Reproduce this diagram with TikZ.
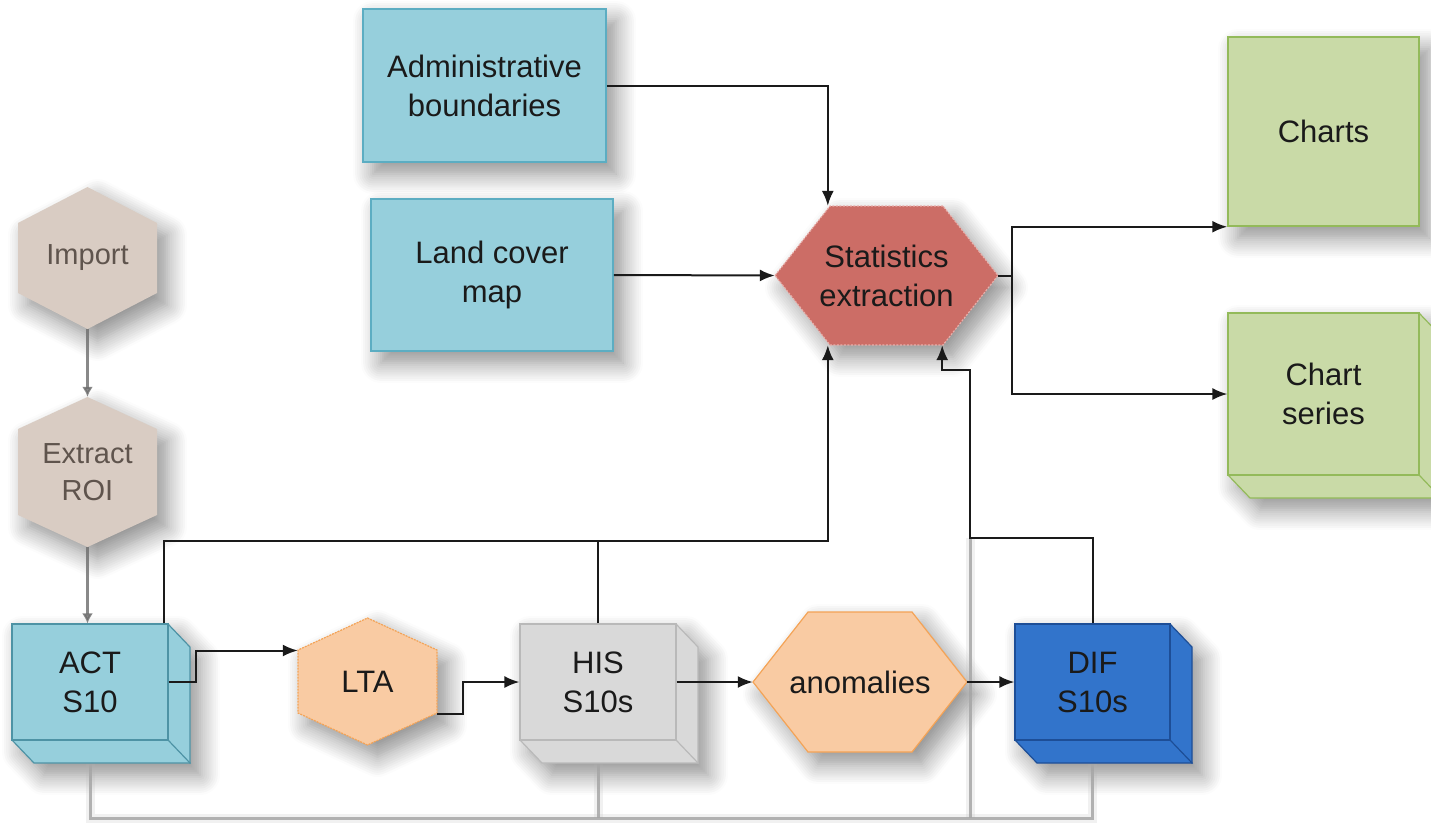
\documentclass[tikz,border=0pt]{standalone}
\usepackage{fontspec}
\setmainfont{Liberation Sans}
\usetikzlibrary{arrows.meta,shadows.blur}

\definecolor{lblue}{HTML}{96CFDC}
\definecolor{lblueline}{HTML}{5CADC2}
\definecolor{statred}{HTML}{CC6D66}
\definecolor{statline}{HTML}{E9AFAA}
\definecolor{lgreen}{HTML}{C9DAA7}
\definecolor{lgreenline}{HTML}{93BA5A}
\definecolor{peach}{HTML}{F9CBA3}
\definecolor{peachline}{HTML}{F4A356}
\definecolor{lgrey}{HTML}{D9D9D9}
\definecolor{lgreyline}{HTML}{B9B9B9}
\definecolor{difblue}{HTML}{3274CB}
\definecolor{difline}{HTML}{1D4E97}
\definecolor{beige}{HTML}{D9CCC3}
\definecolor{fadetext}{HTML}{5F544D}
\definecolor{ink}{HTML}{1A1A1A}

% extruded box body (front face plus depth faces): centre x, centre y, half width, half height, fill, line
\newcommand\cubebackat[6]{%
  \path[fill=#5, draw=#6, line width=1.2pt, line join=round, shapeshade]
    ({#1-#3},{#2-#4}) -- ({#1+#3},{#2-#4}) -- ({#1+#3+22},{#2-#4+23})
    -- ({#1+#3+22},{#2+#4+23}) -- ({#1-#3+22},{#2+#4+23}) -- ({#1-#3},{#2+#4}) -- cycle;}

% depth edge from the lower right corner of a front face
\newcommand\cubeedge[2]{%
  \draw[#2, line width=1.2pt] (#1.south east) -- ([shift={(22,23)}]#1.south east);}

% hexagon pointing left and right: centre x, centre y, half width, half height, inset, style
\newcommand\hexwideat[6]{%
  \path[shapeshade, line width=1.2pt, #6]
    ({#1-#3},{#2}) -- ({#1-#3+#5},{#2-#4}) -- ({#1+#3-#5},{#2-#4})
    -- ({#1+#3},{#2}) -- ({#1+#3-#5},{#2+#4}) -- ({#1-#3+#5},{#2+#4}) -- cycle;}

% hexagon pointing up and down: centre x, centre y, half width, half height, inset, style
\newcommand\hextallat[6]{%
  \path[shapeshade, line width=1.2pt, #6]
    ({#1},{#2-#4}) -- ({#1+#3},{#2-#4+#5}) -- ({#1+#3},{#2+#4-#5})
    -- ({#1},{#2+#4}) -- ({#1-#3},{#2+#4-#5}) -- ({#1-#3},{#2-#4+#5}) -- cycle;}

\begin{document}
\begin{tikzpicture}[x=1pt, y=-1pt,
  shapeshade/.style={blur shadow={shadow xshift=10pt, shadow yshift=-12pt,
      shadow blur radius=20pt, shadow blur steps=10, shadow opacity=45}},
  lbl/.style={align=center, text=ink, font=\fontsize{31}{39}\selectfont, inner sep=0pt},
  fadelbl/.style={lbl, text=fadetext, font=\fontsize{29}{37}\selectfont},
  flatbox/.style 2 args={lbl, fill=#1, draw=#2, line width=1.5pt, shapeshade},
  frontface/.style 2 args={lbl, fill=#1, draw=#2, line width=1.2pt},
  conn/.style={draw=ink, line width=2pt, -{Latex[length=15pt,width=12pt]}},
  plainline/.style={draw=ink, line width=2pt},
  fadeconn/.style={draw=gray!85!black, line width=2.4pt, opacity=0.8,
      -{Latex[length=10pt,width=11pt]}},
  busline/.style={draw=gray!70, line width=3pt, opacity=0.85},
  bushaze/.style={draw=gray!60, line width=9pt, opacity=0.18},
]
\useasboundingbox (0,0) rectangle (1431,823);

% ---- inputs
\node[flatbox={lblue}{lblueline}, minimum width=243pt, minimum height=153pt]
  (admin) at (484.5,85.5) {Administrative\\boundaries};
\node[flatbox={lblue}{lblueline}, minimum width=242pt, minimum height=152pt]
  (land) at (492,275) {Land cover\\map};

% ---- statistics hexagon
\hexwideat{886.5}{275.5}{111.5}{69.5}{55}{fill=statred, draw=statline, dash pattern=on 2pt off 1.5pt}
\node[lbl, minimum width=223pt, minimum height=139pt] (stats) at (886.5,275.5)
  {Statistics\\extraction};

% ---- outputs
\node[flatbox={lgreen}{lgreenline}, minimum width=191pt, minimum height=189pt]
  (charts) at (1323.5,131.5) {Charts};
\cubebackat{1323.5}{394}{95.5}{81}{lgreen}{lgreenline}
\node[frontface={lgreen}{lgreenline}, minimum width=191pt, minimum height=162pt]
  (series) at (1323.5,394) {Chart\\series};
\cubeedge{series}{lgreenline}

% ---- preprocessing chain
\hextallat{87.5}{258}{69.5}{71}{36}{fill=beige}
\node[fadelbl, minimum width=139pt, minimum height=142pt] (import) at (87.5,258) {Import};
\hextallat{87.5}{472}{69.5}{75}{32}{fill=beige}
\node[fadelbl, minimum width=139pt, minimum height=150pt] (extract) at (87.5,472) {Extract\\ROI};

% ---- products row
\cubebackat{90}{682}{78}{58}{lblue}{lblueline!85!black}
\node[frontface={lblue}{lblueline!85!black}, minimum width=156pt, minimum height=116pt]
  (act) at (90,682) {ACT\\S10};
\cubeedge{act}{lblueline!85!black}

\hextallat{367.5}{681.5}{69.5}{63.5}{32}{fill=peach, draw=peachline, dash pattern=on 2pt off 1pt}
\node[lbl, minimum width=139pt, minimum height=127pt] (lta) at (367.5,681.5) {LTA};

\cubebackat{598}{682}{78}{58}{lgrey}{lgreyline}
\node[frontface={lgrey}{lgreyline}, minimum width=156pt, minimum height=116pt]
  (his) at (598,682) {HIS\\S10s};
\cubeedge{his}{lgreyline}

\hexwideat{860}{682}{107}{70}{55}{fill=peach, draw=peachline}
\node[lbl, minimum width=214pt, minimum height=140pt] (anom) at (860,682) {anomalies};

\cubebackat{1092.5}{682}{77.5}{58}{difblue}{difline}
\node[frontface={difblue}{difline}, minimum width=155pt, minimum height=116pt]
  (dif) at (1092.5,682) {DIF\\S10s};
\cubeedge{dif}{difline}

% ---- helper points
\coordinate (topbus) at (0,541);
\coordinate (lowbus) at (0,818);
\coordinate (rise) at (970,538);
\coordinate (sIn1) at ([xshift=53pt]stats.south west);
\coordinate (sIn2) at ([xshift=-56pt]stats.south east);
\coordinate (actb) at ([yshift=-23pt]act.south);
\coordinate (hisb) at ([yshift=-23pt]his.south);
\coordinate (difb) at ([yshift=-23pt]dif.south);

% ---- faint lower bus
\draw[bushaze] (actb) -- (actb |- lowbus) -- (difb |- lowbus) -- (difb);
\draw[bushaze] (hisb) -- (hisb |- lowbus);
\draw[bushaze] (rise) -- (rise |- lowbus);
\draw[busline] (actb) -- (actb |- lowbus) -- (difb |- lowbus) -- (difb);
\draw[busline] (hisb) -- (hisb |- lowbus);
\draw[busline] (rise) -- (rise |- lowbus);

% ---- faint preprocessing arrows
\draw[fadeconn] (import.south) -- (extract.north);
\draw[fadeconn] (extract.south) -- (extract.south |- act.north);

% ---- connectors
\draw[conn] (admin.east) -| ([xshift=53pt]stats.north west);
\draw[conn] (land.east) -- (stats.west);
\draw[conn] (stats.east) -- ++(14,0) |- (charts.south west);
\draw[conn] (stats.east) -- ++(14,0) |- (series.west);

\draw[conn] ([xshift=-5pt]act.north east) |- (sIn1 |- topbus) -- (sIn1);
\draw[plainline] (his.north) -- (his.north |- topbus);
\draw[conn] (dif.north) |- (rise) -- ++(0,-168) -| (sIn2);

\draw[conn] (act.east) -- ++(27,0) |- ([yshift=31pt]lta.west);
\draw[conn] ([yshift=-32pt]lta.east) -- ++(26,0) |- (his.west);
\draw[conn] (his.east) -- (anom.west);
\draw[conn] (anom.east) -- (dif.west);
\end{tikzpicture}
\end{document}
